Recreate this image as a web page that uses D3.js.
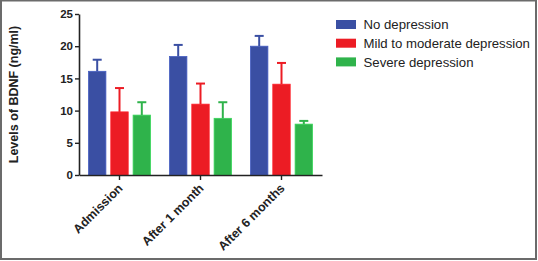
<!DOCTYPE html>
<html>
<head>
<meta charset="utf-8">
<script src="https://cdn.jsdelivr.net/npm/d3@7"></script>
<style>
  body { margin: 0; background: #fff; }
  svg { display: block; font-family: "Liberation Sans", Arial, sans-serif; }
</style>
</head>
<body>
<div id="chart"></div>
<script>
// data
let periods = ["Admission", "After 1 month", "After 6 months"];
let groups = ["No depression", "Mild to moderate depression", "Severe depression"];
let colors = ["#3a4fa3", "#ec1c24", "#2fb34b"];
let meanNone = [16.1, 18.4, 20.0];
let meanMild = [9.8, 11.0, 14.1];
let meanSevere = [9.3, 8.8, 7.9];
let sdNone = [1.8, 1.8, 1.6];
let sdMild = [3.7, 3.2, 3.3];
let sdSevere = [2.0, 2.5, 0.5];
let yTicks = [0, 5, 10, 15, 20, 25];

let means = [meanNone, meanMild, meanSevere];
let sds = [sdNone, sdMild, sdSevere];

let width = 538, height = 261;
let margin = { top: 14, left: 79, bottom: 86, plotRight: 322 };

let svg = d3.select("#chart")
  .append("svg")
  .attr("width", width)
  .attr("height", height);

// outer frame
svg.append("rect")
  .attr("x", 1).attr("y", 0.5)
  .attr("width", width - 3).attr("height", height - 2.5)
  .attr("fill", "none")
  .attr("stroke", "#6b6b6b")
  .attr("stroke-width", 2);

let x = d3.scaleBand()
  .domain(periods)
  .range([margin.left, margin.plotRight]);

let xInner = d3.scaleBand()
  .domain(groups)
  .range([9.5, x.bandwidth() - 9.5])
  .paddingInner(0.22)
  .paddingOuter(0);

let y = d3.scaleLinear()
  .domain([0, 25])
  .range([height - margin.bottom, margin.top]);

// bars + error bars
let rows = [];
periods.forEach(function (p, i) {
  groups.forEach(function (g, j) {
    rows.push({ period: p, group: g, mean: means[j][i], sd: sds[j][i], color: colors[j] });
  });
});

let bar = svg.selectAll("g.bar")
  .data(rows)
  .enter()
  .append("g")
  .attr("class", "bar")
  .attr("transform", function (d) { return `translate(${x(d.period) + xInner(d.group)},0)`; });

bar.append("rect")
  .attr("x", 0)
  .attr("y", function (d) { return y(d.mean); })
  .attr("width", xInner.bandwidth())
  .attr("height", function (d) { return y(0) - y(d.mean); })
  .attr("fill", function (d) { return d.color; })
  .attr("stroke", function (d) { return d3.color(d.color).brighter(0.5); })
  .attr("stroke-width", 0.8);

bar.append("line")
  .attr("x1", xInner.bandwidth() / 2)
  .attr("x2", xInner.bandwidth() / 2)
  .attr("y1", function (d) { return y(d.mean); })
  .attr("y2", function (d) { return y(d.mean + d.sd); })
  .attr("stroke", function (d) { return d.color; })
  .attr("stroke-width", 2);

bar.append("line")
  .attr("x1", xInner.bandwidth() / 2 - 4.5)
  .attr("x2", xInner.bandwidth() / 2 + 4.5)
  .attr("y1", function (d) { return y(d.mean + d.sd); })
  .attr("y2", function (d) { return y(d.mean + d.sd); })
  .attr("stroke", function (d) { return d.color; })
  .attr("stroke-width", 2);

// y axis
let yAxis = svg.append("g")
  .attr("transform", `translate(${margin.left},0)`)
  .call(d3.axisLeft(y).tickValues(yTicks).tickSize(4).tickPadding(2).tickSizeOuter(0));
yAxis.select(".domain").attr("stroke", "#222").attr("stroke-width", 1.6);
yAxis.selectAll(".tick line").attr("stroke", "#222").attr("stroke-width", 1.4);
yAxis.selectAll(".tick text")
  .attr("font-size", 11.5).attr("font-weight", "bold").attr("fill", "#222")
  .attr("font-family", "'Liberation Sans', Arial, sans-serif");

// x axis
let xAxis = svg.append("g")
  .attr("transform", `translate(0,${y(0)})`)
  .call(d3.axisBottom(x).tickSize(5).tickSizeOuter(0));
xAxis.select(".domain").attr("stroke", "#222").attr("stroke-width", 1.6);
xAxis.selectAll(".tick line").attr("stroke", "#222").attr("stroke-width", 1.4);
xAxis.selectAll(".tick text")
  .attr("font-size", 12.5).attr("font-weight", "bold").attr("fill", "#222")
  .attr("font-family", "'Liberation Sans', Arial, sans-serif")
  .attr("text-anchor", "end")
  .attr("dy", null)
  .attr("y", 0)
  .attr("transform", "translate(4,14) rotate(-45)");

// y label
svg.append("text")
  .attr("transform", `translate(18,${(y(0) + y(25)) / 2}) rotate(-90)`)
  .attr("text-anchor", "middle")
  .attr("font-size", 12.5)
  .attr("font-weight", "bold")
  .attr("fill", "#222")
  .text("Levels of BDNF (ng/ml)");

// legend
let legend = svg.selectAll("g.legend")
  .data(groups)
  .enter()
  .append("g")
  .attr("class", "legend")
  .attr("transform", function (d, i) { return `translate(336,${24.5 + i * 18.7})`; });

legend.append("rect")
  .attr("x", 0).attr("y", -4.5)
  .attr("width", 20).attr("height", 9)
  .attr("fill", function (d, i) { return colors[i]; });

legend.append("text")
  .attr("x", 27.5)
  .attr("y", 0)
  .attr("dy", "0.35em")
  .attr("font-size", 13.2)
  .attr("fill", "#222")
  .text(function (d) { return d; });
</script>
</body>
</html>
